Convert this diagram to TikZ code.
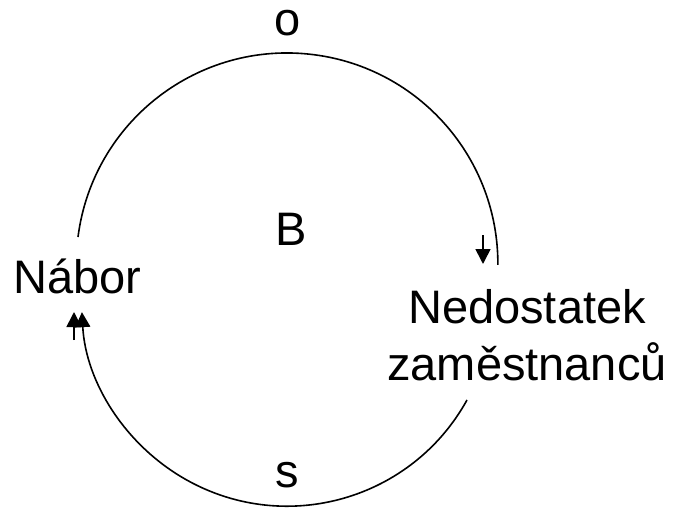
\documentclass[tikz,border=0pt]{standalone}
\usepackage{fontspec}
\setmainfont{Liberation Sans}
\usetikzlibrary{arrows.meta}
\begin{document}
\begin{tikzpicture}[x=1pt,y=-1pt,
  lbl/.style={inner sep=0pt, font=\fontsize{47}{57}\selectfont},
  link/.style={line width=1.6pt, draw=black},
  head/.style={-{Triangle[length=15pt,width=15pt]}}]
\useasboundingbox (0,0) rectangle (675,508);
\node[lbl, anchor=base] (o) at (288,36) {o};
\node[lbl, anchor=base] (B) at (291,245) {B};
\node[lbl, anchor=base] (s) at (287,487) {s};
\node[lbl, anchor=base west] (nabor) at (13,293) {Nábor};
\node[lbl, anchor=base, align=center] (ned) at (527,380) {Nedostatek\\zaměstnanců};
\coordinate (t1) at (78,237);
\coordinate (b1) at (467,400);
\coordinate (a1s) at (483,235);
\coordinate (a1e) at (483,264);
\coordinate (a2s) at (74,340);
\coordinate (a2e) at (74,312);
\draw[link] (t1) arc[start angle=187.3, end angle=360.3, radius=210.8];
\draw[link, head] (b1) arc[start angle=28.9, end angle=176.8, radius=205.5];
\draw[link, head] (a1s) -- (a1e);
\draw[link, head] (a2s) -- (a2e);
\end{tikzpicture}
\end{document}
